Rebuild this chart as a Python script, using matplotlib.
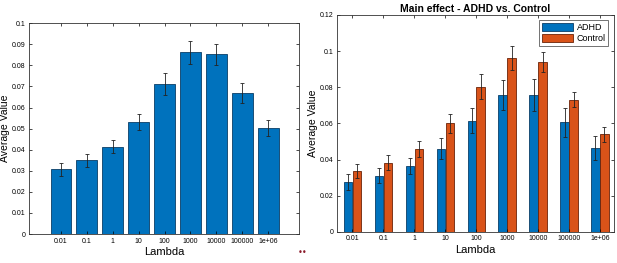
import matplotlib
matplotlib.use("Agg")
import matplotlib.pyplot as plt
import numpy as np

# lambda values (tick labels)
lambdas = ["0.01", "0.1", "1", "10", "100", "1000", "10000", "100000", "1e+06"]

# left panel: overall average
avg_all = [0.0307, 0.0350, 0.0415, 0.0532, 0.0712, 0.0861, 0.0852, 0.0668, 0.0504]
err_all = [0.0030, 0.0031, 0.0033, 0.0038, 0.0052, 0.0055, 0.0050, 0.0046, 0.0039]

# right panel: ADHD vs Control
avg_adhd = [0.0276, 0.0311, 0.0366, 0.0460, 0.0615, 0.0758, 0.0758, 0.0606, 0.0464]
err_adhd = [0.0042, 0.0042, 0.0044, 0.0057, 0.0070, 0.0083, 0.0087, 0.0079, 0.0064]
avg_ctrl = [0.0337, 0.0383, 0.0458, 0.0600, 0.0804, 0.0964, 0.0940, 0.0731, 0.0541]
err_ctrl = [0.0038, 0.0042, 0.0044, 0.0055, 0.0068, 0.0066, 0.0054, 0.0042, 0.0042]

blue = "#0072BD"
orange = "#D95319"

plt.rcParams['font.family'] = ['Liberation Sans', 'DejaVu Sans']

fig = plt.figure(figsize=(6.17, 2.63), dpi=100)
fig.patch.set_facecolor("white")

def style_axes(ax):
    ax.tick_params(direction="in", top=True, right=True, length=2, width=0.5,
                   labelsize=5, pad=2.5)
    for s in ax.spines.values():
        s.set_linewidth(0.6)
        s.set_color("#333333")
    ax.set_xlabel("Lambda", fontsize=8, labelpad=2)
    ax.set_ylabel("Average Value", fontsize=7.5)
    ax.yaxis.set_label_coords(-0.072, 0.5)

# left panel
ax1 = fig.add_axes([0.047, 0.110, 0.438, 0.802])
x = np.arange(1, len(lambdas) + 1)
ax1.bar(x, avg_all, width=0.8, color=blue, edgecolor="#0a3d66", linewidth=0.6)
ax1.errorbar(x, avg_all, yerr=err_all, fmt="none", ecolor="#222222",
             elinewidth=0.6, capsize=1.5, capthick=0.6)
ax1.set_xlim(-0.23, 10.2)
ax1.set_ylim(0, 0.1)
ax1.set_yticks(np.arange(0, 0.101, 0.01))
ax1.set_yticklabels(["0", "0.01", "0.02", "0.03", "0.04", "0.05", "0.06",
                     "0.07", "0.08", "0.09", "0.1"])
ax1.set_xticks(x)
ax1.set_xticklabels(lambdas)
style_axes(ax1)

# right panel
ax2 = fig.add_axes([0.546, 0.118, 0.449, 0.825])
w = 0.27
ax2.bar(x - w / 2 - 0.01, avg_adhd, width=w, color=blue, edgecolor="#0a3d66",
        linewidth=0.6, label="ADHD")
ax2.bar(x + w / 2 + 0.01, avg_ctrl, width=w, color=orange, edgecolor="#6b2308",
        linewidth=0.6, label="Control")
ax2.errorbar(x - w / 2 - 0.01, avg_adhd, yerr=err_adhd, fmt="none", ecolor="#222222",
             elinewidth=0.6, capsize=1.5, capthick=0.6)
ax2.errorbar(x + w / 2 + 0.01, avg_ctrl, yerr=err_ctrl, fmt="none", ecolor="#222222",
             elinewidth=0.6, capsize=1.5, capthick=0.6)
ax2.set_xlim(0.5, 9.45)
ax2.set_ylim(0, 0.12)
ax2.set_yticks(np.arange(0, 0.121, 0.02))
ax2.set_yticklabels(["0", "0.02", "0.04", "0.06", "0.08", "0.1", "0.12"])
ax2.set_xticks(x)
ax2.set_xticklabels(lambdas)
style_axes(ax2)
ax2.yaxis.set_label_coords(-0.068, 0.5)
ax2.set_title("Main effect - ADHD vs. Control", fontsize=7.5, fontweight="bold", pad=2)
leg = ax2.legend(loc="upper right", fontsize=6.5, handlelength=3.5, handleheight=0.9,
                 borderpad=0.3, labelspacing=0.2, handletextpad=0.4,
                 fancybox=False, edgecolor="#333333", borderaxespad=0.6)
leg.get_frame().set_linewidth(0.6)

# stray marks from the original screenshot
fig.text(0.491, 0.03, "\u2022\u2022", color="#8b1a2b", fontsize=6, ha="center",
         family="DejaVu Sans")

fig.savefig("out.png", dpi=100, facecolor="white")
